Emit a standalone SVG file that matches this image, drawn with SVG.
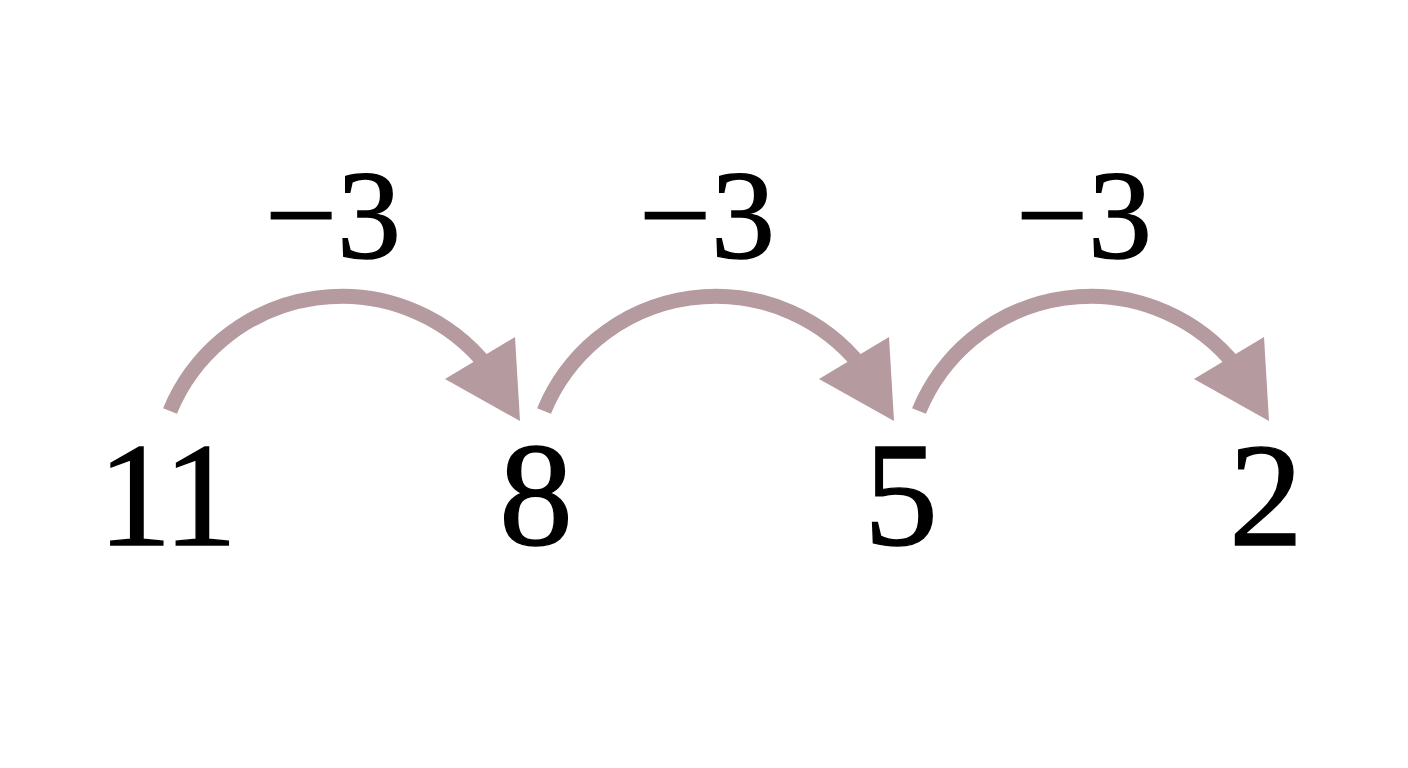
<svg xmlns="http://www.w3.org/2000/svg" width="1408" height="768" viewBox="0 0 1408 768">
<style>
text{font-family:'Liberation Serif','Times New Roman',Times,serif;fill:#000;stroke:#000;stroke-width:1.4;text-anchor:middle}
.num{font-size:148px}
.lbl{font-size:128px}
.arc{fill:none;stroke:#b59aa0;stroke-width:15}
.head{fill:#b59aa0}
</style>
<rect width="1408" height="768" fill="#fff"/>
<g id="connectors">
<g id="jump1">
<path class="arc" d="M170 411 A186 186 0 0 1 487 366"/>
<polygon class="head" points="520,421 445,379 515,337"/>
</g>
<g id="jump2" transform="translate(374,0)">
<path class="arc" d="M170 411 A186 186 0 0 1 487 366"/>
<polygon class="head" points="520,421 445,379 515,337"/>
</g>
<g id="jump3" transform="translate(749,0)">
<path class="arc" d="M170 411 A186 186 0 0 1 487 366"/>
<polygon class="head" points="520,421 445,379 515,337"/>
</g>
</g>
<g id="labels">
<text class="lbl" x="333" y="258">−3</text>
<text class="lbl" x="707" y="258">−3</text>
<text class="lbl" x="1084" y="258">−3</text>
</g>
<g id="n11"><text class="num" x="166" y="545" letter-spacing="-3">11</text></g>
<g id="n8"><text class="num" x="536" y="545">8</text></g>
<g id="n5"><text class="num" x="901" y="545">5</text></g>
<g id="n2"><text class="num" x="1266" y="545">2</text></g>
</svg>
